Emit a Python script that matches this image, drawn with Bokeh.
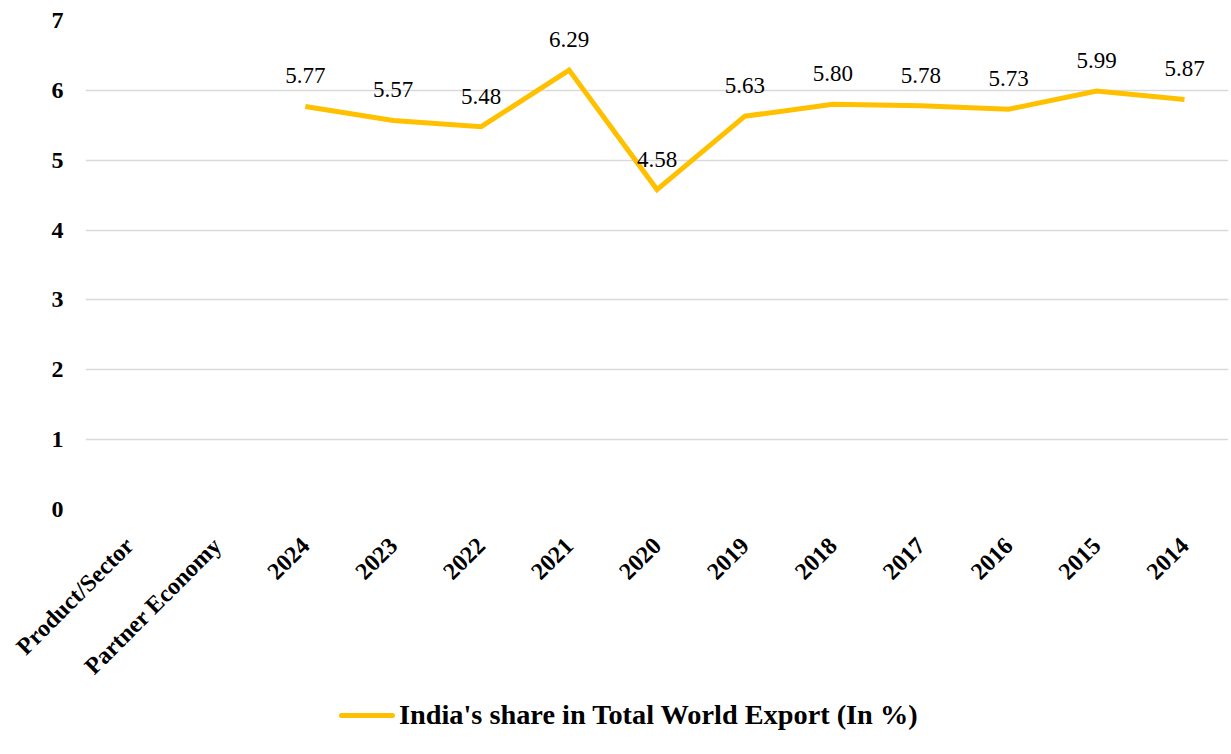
import math
from bokeh.plotting import figure
from bokeh.models import ColumnDataSource, FactorRange, Range1d, LabelSet, Div
from bokeh.layouts import column
from bokeh.embed import file_html
from bokeh.resources import INLINE

categories = ["Product/Sector", "Partner Economy", "2024", "2023", "2022", "2021",
              "2020", "2019", "2018", "2017", "2016", "2015", "2014"]
years = ["2024", "2023", "2022", "2021", "2020", "2019", "2018", "2017", "2016", "2015", "2014"]
share = [5.77, 5.57, 5.48, 6.29, 4.58, 5.63, 5.80, 5.78, 5.73, 5.99, 5.87]
series_name = "India's share in Total World Export (In %)"
line_color = "#FFC000"

src = ColumnDataSource(dict(x=years, y=share, lbl=["%.2f" % v for v in share]))

p = figure(x_range=FactorRange(*categories, range_padding=0), y_range=Range1d(0, 7),
           width=1230, height=691, output_backend="svg", toolbar_location=None,
           min_border_left=85, min_border_right=2, min_border_top=20, min_border_bottom=181)
p.outline_line_color = None
p.background_fill_color = "white"
p.border_fill_color = "white"

r = p.line("x", "y", source=src, line_color=line_color, line_width=5, line_join="miter")

labels = LabelSet(x="x", y="y", text="lbl", source=src, text_align="center",
                  text_baseline="bottom", y_offset=23, text_font="Liberation Serif",
                  text_font_size="23px", text_color="#000000")
p.add_layout(labels)

p.xgrid.grid_line_color = None
p.ygrid.grid_line_color = "#d9d9d9"
p.ygrid.grid_line_width = 1.5
p.yaxis.ticker = [0, 1, 2, 3, 4, 5, 6, 7]
for ax in (p.xaxis[0], p.yaxis[0]):
    ax.axis_line_color = None
    ax.major_tick_line_color = None
    ax.minor_tick_line_color = None
    ax.major_label_text_font = "Liberation Serif"
    ax.major_label_text_font_style = "bold"
    ax.major_label_text_font_size = "24px"
    ax.major_label_text_color = "#000000"
p.yaxis.major_label_standoff = 16
p.xaxis.major_label_standoff = 26
p.xaxis.major_label_orientation = math.pi / 4

legend_html = (
    '<div style="display:flex;align-items:center;margin-left:334px;height:38px;'
    'font-family:\'Liberation Serif\';font-weight:bold;font-size:28.3px;color:#000;white-space:nowrap;">'
    '<span style="display:inline-block;width:56px;height:5px;border-radius:3px;background:%s;'
    'margin-right:4px;"></span>%s</div>' % (line_color, series_name)
)
legend_div = Div(text=legend_html, width=1230, height=56)

line_div = Div(text='<div style="width:1230px;height:0;border-top:2px solid #d9d9d9;"></div>',
               width=1230, height=3)
lay = column(p, legend_div, line_div, spacing=0)

open("out.html", "w").write(file_html(lay, INLINE))
